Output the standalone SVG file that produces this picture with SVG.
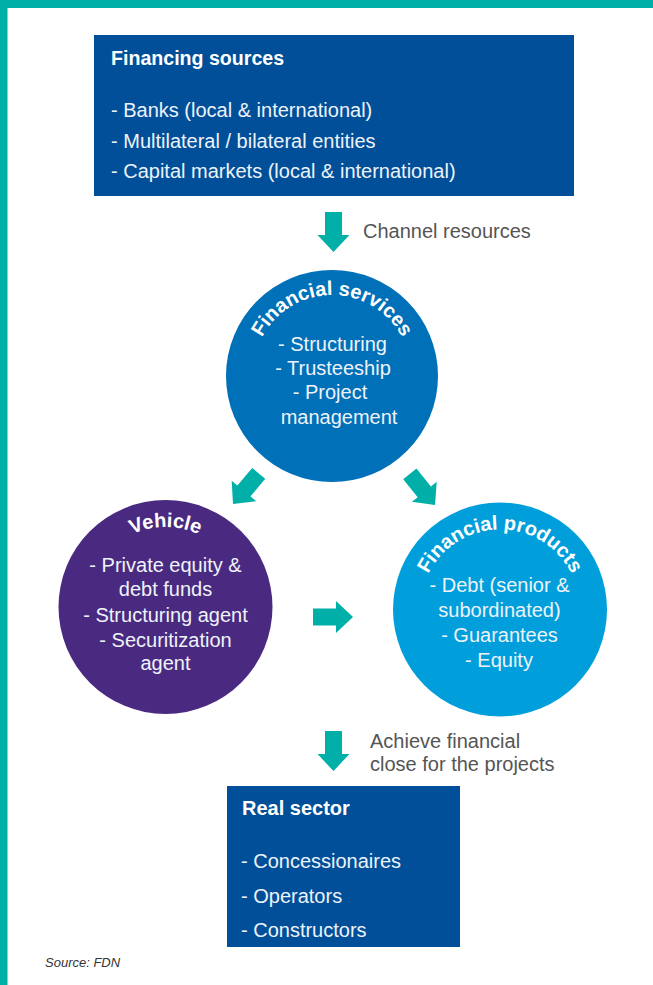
<svg xmlns="http://www.w3.org/2000/svg" xmlns:xlink="http://www.w3.org/1999/xlink" width="653" height="985" viewBox="0 0 653 985">
<style>
  .box { fill: #004f98; }
  .ttl { font-family: "Liberation Sans", Arial, sans-serif; font-weight: bold; font-size: 20px; fill: #ffffff; }
  .itm { font-family: "Liberation Sans", Arial, sans-serif; font-size: 20px; fill: #eef3fa; }
  .ctr { text-anchor: middle; }
  .lbl { font-family: "Liberation Sans", Arial, sans-serif; font-size: 20px; fill: #555555; }
  .src { font-family: "Liberation Sans", Arial, sans-serif; font-size: 13px; font-style: italic; fill: #333333; }
  .arw { fill: #00b0a8; }
</style>
<defs>
  <polygon id="arrow" points="-40,-8.5 -17,-8.5 -17,-16 0,0 -17,16 -17,8.5 -40,8.5"/>
  <path id="arcServices" d="M253,374 A79,79 0 0 1 411,374"/>
  <path id="arcVehicle" d="M85.5,607 A80,80 0 0 1 245.5,607"/>
  <path id="arcProducts" d="M420,609.5 A80,80 0 0 1 580,609.5"/>
</defs>
<rect x="0" y="0" width="653" height="985" fill="#ffffff"/>
<g id="frame">
  <rect x="0" y="0" width="653" height="8" fill="#00b0a8"/>
  <rect x="0" y="0" width="7.5" height="985" fill="#00b0a8"/>
</g>
<g id="financing-sources">
  <rect class="box" x="94" y="35" width="480" height="161"/>
  <text class="ttl" x="111" y="65" style="font-size:19.6px">Financing sources</text>
  <text class="itm" x="111" y="117">- Banks (local &amp; international)</text>
  <text class="itm" x="111" y="148">- Multilateral / bilateral entities</text>
  <text class="itm" x="111" y="178">- Capital markets (local &amp; international)</text>
</g>
<g id="financial-services">
  <circle cx="332" cy="376" r="106" fill="#0070b8"/>
  <text class="ttl"><textPath xlink:href="#arcServices" href="#arcServices" startOffset="50%" text-anchor="middle">Financial services</textPath></text>
  <text class="itm ctr" x="332.5" y="351">- Structuring</text>
  <text class="itm ctr" x="333" y="375">- Trusteeship</text>
  <text class="itm ctr" x="330" y="399">- Project</text>
  <text class="itm ctr" x="339" y="424">management</text>
</g>
<g id="vehicle">
  <circle cx="165.5" cy="607" r="107" fill="#4a2a80"/>
  <text class="ttl"><textPath xlink:href="#arcVehicle" href="#arcVehicle" startOffset="50%" text-anchor="middle">Vehicle</textPath></text>
  <text class="itm ctr" x="165.5" y="572">- Private equity &amp;</text>
  <text class="itm ctr" x="165.5" y="596">debt funds</text>
  <text class="itm ctr" x="165.5" y="622">- Structuring agent</text>
  <text class="itm ctr" x="165.5" y="647">- Securitization</text>
  <text class="itm ctr" x="165.5" y="670">agent</text>
</g>
<g id="financial-products">
  <circle cx="500" cy="609.5" r="107" fill="#009fdb"/>
  <text class="ttl"><textPath xlink:href="#arcProducts" href="#arcProducts" startOffset="50%" text-anchor="middle">Financial products</textPath></text>
  <text class="itm ctr" x="499.5" y="592">- Debt (senior &amp;</text>
  <text class="itm ctr" x="499.5" y="617">subordinated)</text>
  <text class="itm ctr" x="499.5" y="642">- Guarantees</text>
  <text class="itm ctr" x="499" y="667">- Equity</text>
</g>
<g id="real-sector">
  <rect class="box" x="227" y="786" width="233" height="161"/>
  <text class="ttl" x="242" y="815">Real sector</text>
  <text class="itm" x="241" y="868">- Concessionaires</text>
  <text class="itm" x="241" y="903">- Operators</text>
  <text class="itm" x="241" y="937">- Constructors</text>
</g>
<g id="connectors">
  <use class="arw" href="#arrow" xlink:href="#arrow" transform="translate(333.5,252) rotate(90)"/>
  <use class="arw" href="#arrow" xlink:href="#arrow" transform="translate(233,504) rotate(130)"/>
  <use class="arw" href="#arrow" xlink:href="#arrow" transform="translate(435,505) rotate(51)"/>
  <use class="arw" href="#arrow" xlink:href="#arrow" transform="translate(353,617) rotate(0)"/>
  <use class="arw" href="#arrow" xlink:href="#arrow" transform="translate(333.5,771) rotate(90)"/>
  <text class="lbl" x="363" y="238">Channel resources</text>
  <text class="lbl" x="370" y="748">Achieve financial</text>
  <text class="lbl" x="370" y="771">close for the projects</text>
</g>
<text class="src" x="45" y="967">Source: FDN</text>
</svg>
